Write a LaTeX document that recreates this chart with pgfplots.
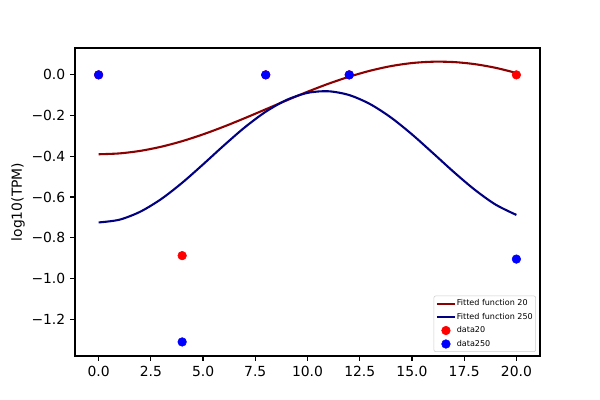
\documentclass[border=0pt]{standalone}
\usepackage{fontspec}
\setmainfont{DejaVu Sans}
\usepackage{pgfplots}
\pgfplotsset{compat=1.18}
\definecolor{mdarkred}{HTML}{8B0000}
\definecolor{mnavy}{HTML}{000080}
\definecolor{mred}{HTML}{FF0000}
\definecolor{mblue}{HTML}{0000FF}
\begin{document}
\begin{tikzpicture}[x=1pt,y=1pt]
\useasboundingbox (-54,-31.68) rectangle (378,256.32);
\begin{axis}[
  at={(0,0)}, anchor=south west,
  width=334.8pt, height=221.76pt, scale only axis,
  xmin=-1.13, xmax=21.13, ymin=-1.381, ymax=0.132,
  axis line style={line width=0.8pt},
  tick align=outside, tick pos=left,
  major tick length=3.5pt,
  every tick/.style={black, line width=0.8pt},
  xtick={0,2.5,5,7.5,10,12.5,15,17.5,20},
  xticklabels={0.0,2.5,5.0,7.5,10.0,12.5,15.0,17.5,20.0},
  ytick={-1.2,-1.0,-0.8,-0.6,-0.4,-0.2,0},
  yticklabels={−1.2,−1.0,−0.8,−0.6,−0.4,−0.2,0.0},
  tick label style={font=\fontsize{10}{12}\selectfont},
  xticklabel style={yshift=-0.5pt},
  ylabel={log10(TPM)},
  ylabel shift=-2pt,
  ylabel style={font=\fontsize{10}{12}\selectfont},
  legend cell align=left,
  legend style={at={(0.9914,0.013)}, anchor=south east,
    font=\fontsize{5.79}{6.5}\selectfont,
    draw=black!20, rounded corners=1.5pt, fill=white,
    row sep=2.6pt, inner xsep=1.5pt, inner ysep=2pt,
    nodes={inner sep=0.6pt}},
]
\addlegendimage{legend image code/.code={\draw[mdarkred,line width=1.5pt] (0pt,0pt) -- (13pt,0pt);}}
\addlegendentry{Fitted function 20}
\addlegendimage{legend image code/.code={\draw[mnavy,line width=1.5pt] (0pt,0pt) -- (13pt,0pt);}}
\addlegendentry{Fitted function 250}
\addlegendimage{legend image code/.code={\fill[mred] (6.5pt,0pt) circle (3.1pt);}}
\addlegendentry{data20}
\addlegendimage{legend image code/.code={\fill[mblue] (6.5pt,0pt) circle (3.1pt);}}
\addlegendentry{data250}

\addplot[only marks, mark=*, mark size=3.1pt, mred, mark options={draw=mred, fill=mred}, forget plot]
  coordinates {(0,0) (4,-0.888) (8,0) (12,0) (20,0)};
\addplot[only marks, mark=*, mark size=3.1pt, mblue, mark options={draw=mblue, fill=mblue}, forget plot]
  coordinates {(0,0) (4,-1.312) (8,0) (12,0) (20,-0.905)};

\addplot[mdarkred, line width=1.5pt, smooth, forget plot] coordinates {
(0,-0.390) (1,-0.3858) (2,-0.3733) (3,-0.3530) (4,-0.3257) (5,-0.2923)
(6,-0.2541) (7,-0.2125) (8,-0.1691) (9,-0.1254) (10,-0.0830) (11,-0.0437)
(12,-0.0090) (13,0.0204) (14,0.0431) (15,0.0580) (16,0.0646) (17,0.0629)
(18,0.0528) (19,0.0347) (20,0.0093)};
\addplot[mnavy, line width=1.5pt, smooth, forget plot] coordinates {
(0,-0.725) (1,-0.7115) (2,-0.6719) (3,-0.6098) (4,-0.5302) (5,-0.4399)
(6,-0.3465) (7,-0.2576) (8,-0.1812) (9,-0.1232) (10,-0.0886) (11,-0.0806)
(12,-0.0994) (13,-0.1438) (14,-0.2099) (15,-0.2922) (16,-0.3838) (17,-0.4769)
(18,-0.5638) (19,-0.6371) (20,-0.6880)};
\end{axis}
\end{tikzpicture}
\end{document}
